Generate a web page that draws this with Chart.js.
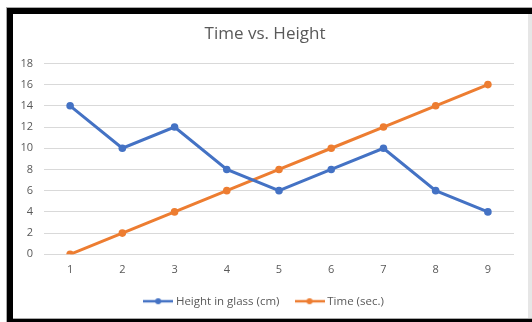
<!DOCTYPE html>
<html><head><meta charset="utf-8">
<script src="https://cdn.jsdelivr.net/npm/chart.js@4"></script>
<style>
html,body{margin:0;padding:0;background:#fff;width:532px;height:322px;overflow:hidden;}
#wrap{position:absolute;left:0;top:0;width:532px;height:322px;}
canvas{position:absolute;left:0;top:0;}
.b{position:absolute;}
</style></head>
<body>
<div id="wrap"><canvas id="c" width="532" height="322"></canvas></div>
<div class="b" style="left:6px;top:7px;width:526px;height:1px;background:#aaa"></div>
<div class="b" style="left:6px;top:7px;width:1px;height:315px;background:#aaa"></div>
<div class="b" style="left:7px;top:8px;width:525px;height:6px;background:#000"></div>
<div class="b" style="left:7px;top:8px;width:6px;height:314px;background:#000"></div>
<div class="b" style="left:528px;top:14px;width:4px;height:305px;background:#e6e6e6"></div>
<div class="b" style="left:13px;top:318px;width:519px;height:1px;background:#aaa"></div>
<div class="b" style="left:7px;top:319px;width:525px;height:3px;background:#000"></div>
<script>
const categories = ['1','2','3','4','5','6','7','8','9'];
const heightInGlass = [14,10,12,8,6,8,10,6,4];
const timeSec = [0,2,4,6,8,10,12,14,16];
const seriesNames = ['Height in glass (cm)','Time (sec.)'];
const colors = ['#4472C4','#ED7D31'];

function legendIcon(color){
  const cv = document.createElement('canvas');
  cv.width = 30; cv.height = 8;
  const g = cv.getContext('2d');
  g.strokeStyle = color; g.lineWidth = 2.5;
  g.beginPath(); g.moveTo(0,4); g.lineTo(30,4); g.stroke();
  g.fillStyle = color; g.beginPath(); g.arc(15,4,3,0,Math.PI*2); g.fill();
  return cv;
}
const icons = colors.map(legendIcon);
const FONT = "'Open Sans', 'Liberation Sans', sans-serif";

new Chart(document.getElementById('c'), {
  type: 'line',
  data: {
    labels: categories,
    datasets: [
      {label: seriesNames[0], data: heightInGlass, borderColor: colors[0], backgroundColor: colors[0], borderWidth: 3, pointRadius: 3.8, pointBorderWidth: 0, pointHoverRadius: 3.8, tension: 0},
      {label: seriesNames[1], data: timeSec, borderColor: colors[1], backgroundColor: colors[1], borderWidth: 3, pointRadius: 3.8, pointBorderWidth: 0, pointHoverRadius: 3.8, tension: 0}
    ]
  },
  options: {
    responsive: false,
    animation: false,
    layout: {padding: {left: 16, right: 18, top: 18, bottom: 5}},
    plugins: {
      title: {display: true, text: 'Time vs. Height', color: '#595959', font: {family: FONT, size: 17, weight: 'normal'}, padding: {top: 6, bottom: 19}},
      legend: {
        position: 'bottom',
        labels: {
          color: '#595959', font: {family: FONT, size: 11.5},
          usePointStyle: true, pointStyleWidth: 24, boxHeight: 8, padding: 18,
          generateLabels: (chart) => chart.data.datasets.map((d,i) => ({
            text: d.label, pointStyle: icons[i], fontColor: '#595959', datasetIndex: i, lineWidth: 0, strokeStyle: 'transparent', fillStyle: 'transparent'
          }))
        }
      },
      tooltip: {enabled: false}
    },
    scales: {
      x: {
        offset: true,
        grid: {display: false},
        border: {display: false},
        ticks: {color: '#595959', font: {family: FONT, size: 11}, padding: 1}
      },
      y: {
        min: 0, max: 18,
        afterFit: (s) => { s.width = 28; },
        ticks: {stepSize: 2, color: '#595959', font: {family: FONT, size: 11}, padding: 11},
        grid: {color: '#d9d9d9', lineWidth: 1, drawTicks: false},
        border: {display: false}
      }
    }
  }
});
</script>
</body></html>
